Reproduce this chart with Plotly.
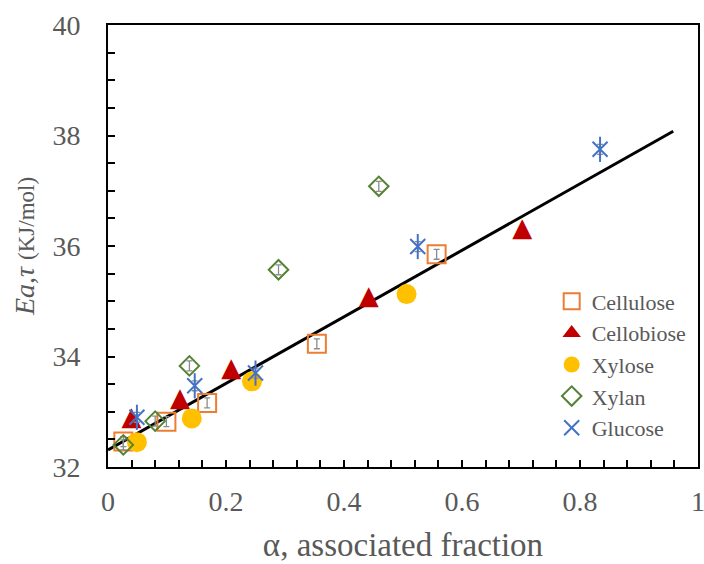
import plotly.graph_objects as go

# Activation energy vs associated fraction for each substrate
cellulose_x = [0.026, 0.099, 0.168, 0.354, 0.557]
cellulose_y = [32.46, 32.82, 33.16, 34.23, 35.85]

cellobiose_x = [0.040, 0.122, 0.209, 0.442, 0.702]
cellobiose_y = [32.88, 33.22, 33.77, 35.07, 36.29]

xylose_x = [0.049, 0.142, 0.244, 0.506]
xylose_y = [32.45, 32.88, 33.55, 35.13]

xylan_x = [0.026, 0.080, 0.138, 0.289, 0.459]
xylan_y = [32.40, 32.83, 33.83, 35.57, 37.08]

glucose_x = [0.049, 0.147, 0.250, 0.525, 0.834]
glucose_y = [32.90, 33.47, 33.70, 35.99, 37.75]

err = 0.09  # half-width of the error bars (KJ/mol)

# Linear fit over all substrates
fit_intercept = 32.31
fit_slope = 6.02
fit_x = [0.0, 0.958]
fit_y = [fit_intercept + fit_slope * x for x in fit_x]

FONT = "Liberation Serif, Times New Roman, serif"
GREY = "#595959"
ERR_COL = "#8c8c8c"
RED = "#C00000"

def errbar(n):
    return dict(type="data", array=[err] * n, color=ERR_COL, thickness=1.3, width=3)

fig = go.Figure()

fig.add_trace(go.Scatter(
    x=fit_x, y=fit_y, mode="lines", line=dict(color="black", width=3),
    showlegend=False, hoverinfo="skip"))

fig.add_trace(go.Scatter(
    x=cellulose_x, y=cellulose_y, mode="markers", name="Cellulose",
    legendgroup="a",
    marker=dict(symbol="square-open", size=18, color="#ED7D31", line=dict(width=2)),
    error_y=errbar(len(cellulose_x))))

# Cellobiose: solid triangles drawn as glyphs (taller than the built-in symbol)
fig.add_trace(go.Scatter(
    x=cellobiose_x, y=cellobiose_y, mode="text", text=["▲"] * len(cellobiose_x),
    textposition="middle center", legendgroup="b", showlegend=False,
    textfont=dict(family="DejaVu Sans", size=26, color=RED), hoverinfo="x+y"))
fig.add_trace(go.Scatter(
    x=[None], y=[None], mode="markers", name="Cellobiose", legendgroup="b",
    marker=dict(symbol="triangle-up", size=16, color=RED)))

fig.add_trace(go.Scatter(
    x=xylose_x, y=xylose_y, mode="markers", name="Xylose",
    legendgroup="c",
    marker=dict(symbol="circle", size=20, color="#FFC000")))

fig.add_trace(go.Scatter(
    x=xylan_x, y=xylan_y, mode="markers", name="Xylan",
    legendgroup="d",
    marker=dict(symbol="diamond-open", size=15, color="#548235", line=dict(width=2)),
    error_y=errbar(len(xylan_x))))

# Star marker: an X with a vertical stroke through it
fig.add_trace(go.Scatter(
    x=glucose_x, y=glucose_y, mode="markers", name="Glucose",
    legendgroup="e",
    marker=dict(symbol="x-thin-open", size=15, color="#4472C4", line=dict(width=2, color="#4472C4")),
    error_y=errbar(len(glucose_x))))
fig.add_trace(go.Scatter(
    x=glucose_x, y=glucose_y, mode="markers", name="Glucose",
    legendgroup="e", showlegend=False,
    marker=dict(symbol="line-ns-open", size=18, color="#4472C4", line=dict(width=2, color="#4472C4"))))

axis_common = dict(
    showline=True, linecolor="black", linewidth=2, mirror=True,
    ticks="inside", ticklen=7, tickwidth=1.5, tickcolor="black",
    showgrid=False, zeroline=False, automargin=False,
    ticklabeloverflow="allow",
    tickfont=dict(family=FONT, size=28, color=GREY),
)

fig.update_xaxes(
    range=[0, 1], tickvals=[0, 0.2, 0.4, 0.6, 0.8, 1],
    ticktext=["0", "0.2", "0.4", "0.6", "0.8", "1"],
    minor=dict(dtick=0.04, tick0=0, ticks="inside", ticklen=7, tickwidth=1.5, tickcolor="black"),
    ticklabelstandoff=8,
    title=dict(text="α, associated fraction", font=dict(family=FONT, size=33, color=GREY), standoff=17),
    **axis_common)

fig.update_yaxes(
    range=[32, 40], tickvals=[32, 34, 36, 38, 40],
    minor=dict(dtick=0.5, tick0=32, ticks="inside", ticklen=7, tickwidth=1.5, tickcolor="black"),
    ticklabelstandoff=20,
    title=dict(text="<i>Ea,τ</i> <span style='font-size:23px'>(KJ/mol)</span>",
               font=dict(family=FONT, size=28, color=GREY), standoff=10),
    **axis_common)

fig.update_layout(
    width=704, height=564,
    margin=dict(l=108, r=6, t=25, b=97),
    plot_bgcolor="white", paper_bgcolor="white",
    legend=dict(x=0.752, y=0.422, xanchor="left", yanchor="top",
                font=dict(family=FONT, size=22, color=GREY),
                bgcolor="rgba(0,0,0,0)", tracegroupgap=0, itemwidth=30),
)

fig.write_html("out.html")
